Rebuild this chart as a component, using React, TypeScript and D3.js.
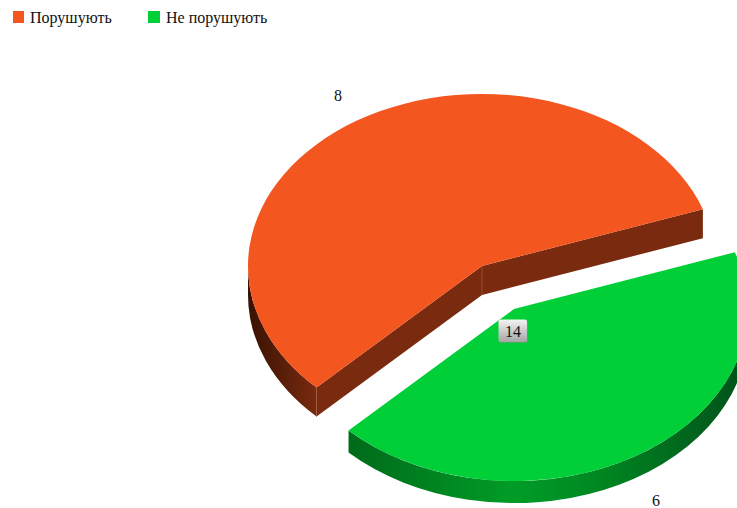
import React from "react";
import * as d3 from "d3";

const categories = ["Порушують", "Не порушують"];
const values = [8, 6];
const topColors = ["#f4561f", "#00cf38"];

const width = 737;
const height = 508;
const rx = 234;
const ry = 172;
const serif = "'Liberation Serif', serif";

// the slices sit at different spots, the green one is pulled out
const slices = [
  { cx: 482, cy: 266, depth: 29 },
  { cx: 514, cy: 309, depth: 22 },
];

const pie = d3
  .pie<number>()
  .sort(null)
  .startAngle((225 * Math.PI) / 180)
  .endAngle((585 * Math.PI) / 180);
const arcs = pie(values);
const arc = d3.arc<any>().innerRadius(0).outerRadius(rx);

const pt = (i: number, a: number, dy = 0): [number, number] => [
  slices[i].cx + rx * Math.sin(a),
  slices[i].cy - ry * Math.cos(a) + dy,
];

// band of the rim between two angles, clockwise
function rim(i: number, a0: number, a1: number) {
  const d = slices[i].depth;
  const [x0, y0] = pt(i, a0);
  const [x1, y1] = pt(i, a1);
  const large = a1 - a0 > Math.PI ? 1 : 0;
  return `M${x0},${y0}A${rx},${ry} 0 ${large} 1 ${x1},${y1}L${x1},${y1 + d}A${rx},${ry} 0 ${large} 0 ${x0},${y0 + d}Z`;
}

function cut(i: number, a: number) {
  const d = slices[i].depth;
  const { cx, cy } = slices[i];
  const [x, y] = pt(i, a);
  return `M${cx},${cy}L${x},${y}L${x},${y + d}L${cx},${cy + d}Z`;
}

const total = d3.sum(values);
const orange = arcs[0];
const green = arcs[1];

export default function App() {
  return (
    <svg
      width={width}
      height={height}
      style={{ position: "absolute", left: 0, top: 0, background: "#fff" }}
    >
      <defs>
        <linearGradient id="orangeRim" gradientUnits="userSpaceOnUse" x1="248" x2="317" y1="0" y2="0">
          <stop offset="0" stopColor="#381203" />
          <stop offset="1" stopColor="#7a2a0e" />
        </linearGradient>
        <linearGradient id="greenRim" gradientUnits="userSpaceOnUse" x1="348" x2="737" y1="0" y2="0">
          <stop offset="0" stopColor="#006a1a" />
          <stop offset="0.42" stopColor="#009c27" />
          <stop offset="0.62" stopColor="#008a22" />
          <stop offset="1" stopColor="#00541a" />
        </linearGradient>
        <linearGradient id="boxFill" x1="0" x2="0" y1="0" y2="1">
          <stop offset="0" stopColor="#f4f4f4" />
          <stop offset="1" stopColor="#a6a6a6" />
        </linearGradient>
      </defs>

      {/* legend */}
      <g fontFamily={serif} fontSize={16} fill="#111">
        <rect x={13} y={11} width={11} height={12} fill={topColors[0]} />
        <text x={30} y={23}>{categories[0]}</text>
        <rect x={148} y={11} width={12} height={12} fill={topColors[1]} />
        <text x={166} y={23}>{categories[1]}</text>
      </g>

      {/* orange slice */}
      <path d={rim(0, orange.startAngle, (270 * Math.PI) / 180)} fill="url(#orangeRim)" />
      <path d={cut(0, orange.startAngle)} fill="#7a2a0e" />
      <path d={cut(0, orange.endAngle)} fill="#7a2a0e" />
      <line
        x1={slices[0].cx}
        x2={slices[0].cx}
        y1={slices[0].cy}
        y2={slices[0].cy + slices[0].depth}
        stroke="#a0603f"
        strokeWidth={0.7}
      />
      <line
        x1={pt(0, orange.startAngle)[0]}
        x2={pt(0, orange.startAngle)[0]}
        y1={pt(0, orange.startAngle)[1]}
        y2={pt(0, orange.startAngle)[1] + slices[0].depth}
        stroke="#a0603f"
        strokeWidth={0.7}
      />
      <g transform={`translate(${slices[0].cx},${slices[0].cy}) scale(1,${ry / rx})`}>
        <path d={arc(orange) as string} fill={topColors[0]} />
      </g>

      {/* green slice, the visible rim runs from the right edge round to the left corner */}
      <path d={rim(1, (450 * Math.PI) / 180, green.endAngle)} fill="url(#greenRim)" />
      <g transform={`translate(${slices[1].cx},${slices[1].cy}) scale(1,${ry / rx})`}>
        <path d={arc(green) as string} fill={topColors[1]} />
      </g>

      {/* labels */}
      <g fontFamily={serif} fontSize={16} fill="#111" textAnchor="middle">
        <text x={338} y={101}>{values[0]}</text>
        <text x={656} y={506}>{values[1]}</text>
      </g>
      <rect x={499} y={320} width={29} height={23} rx={2} fill="#8a8a8a" opacity={0.5} />
      <rect x={498.5} y={319.5} width={28.5} height={22.5} rx={2} fill="url(#boxFill)" />
      <text x={513} y={337} fontFamily={serif} fontSize={16} fill="#111" textAnchor="middle">
        {total}
      </text>
    </svg>
  );
}
